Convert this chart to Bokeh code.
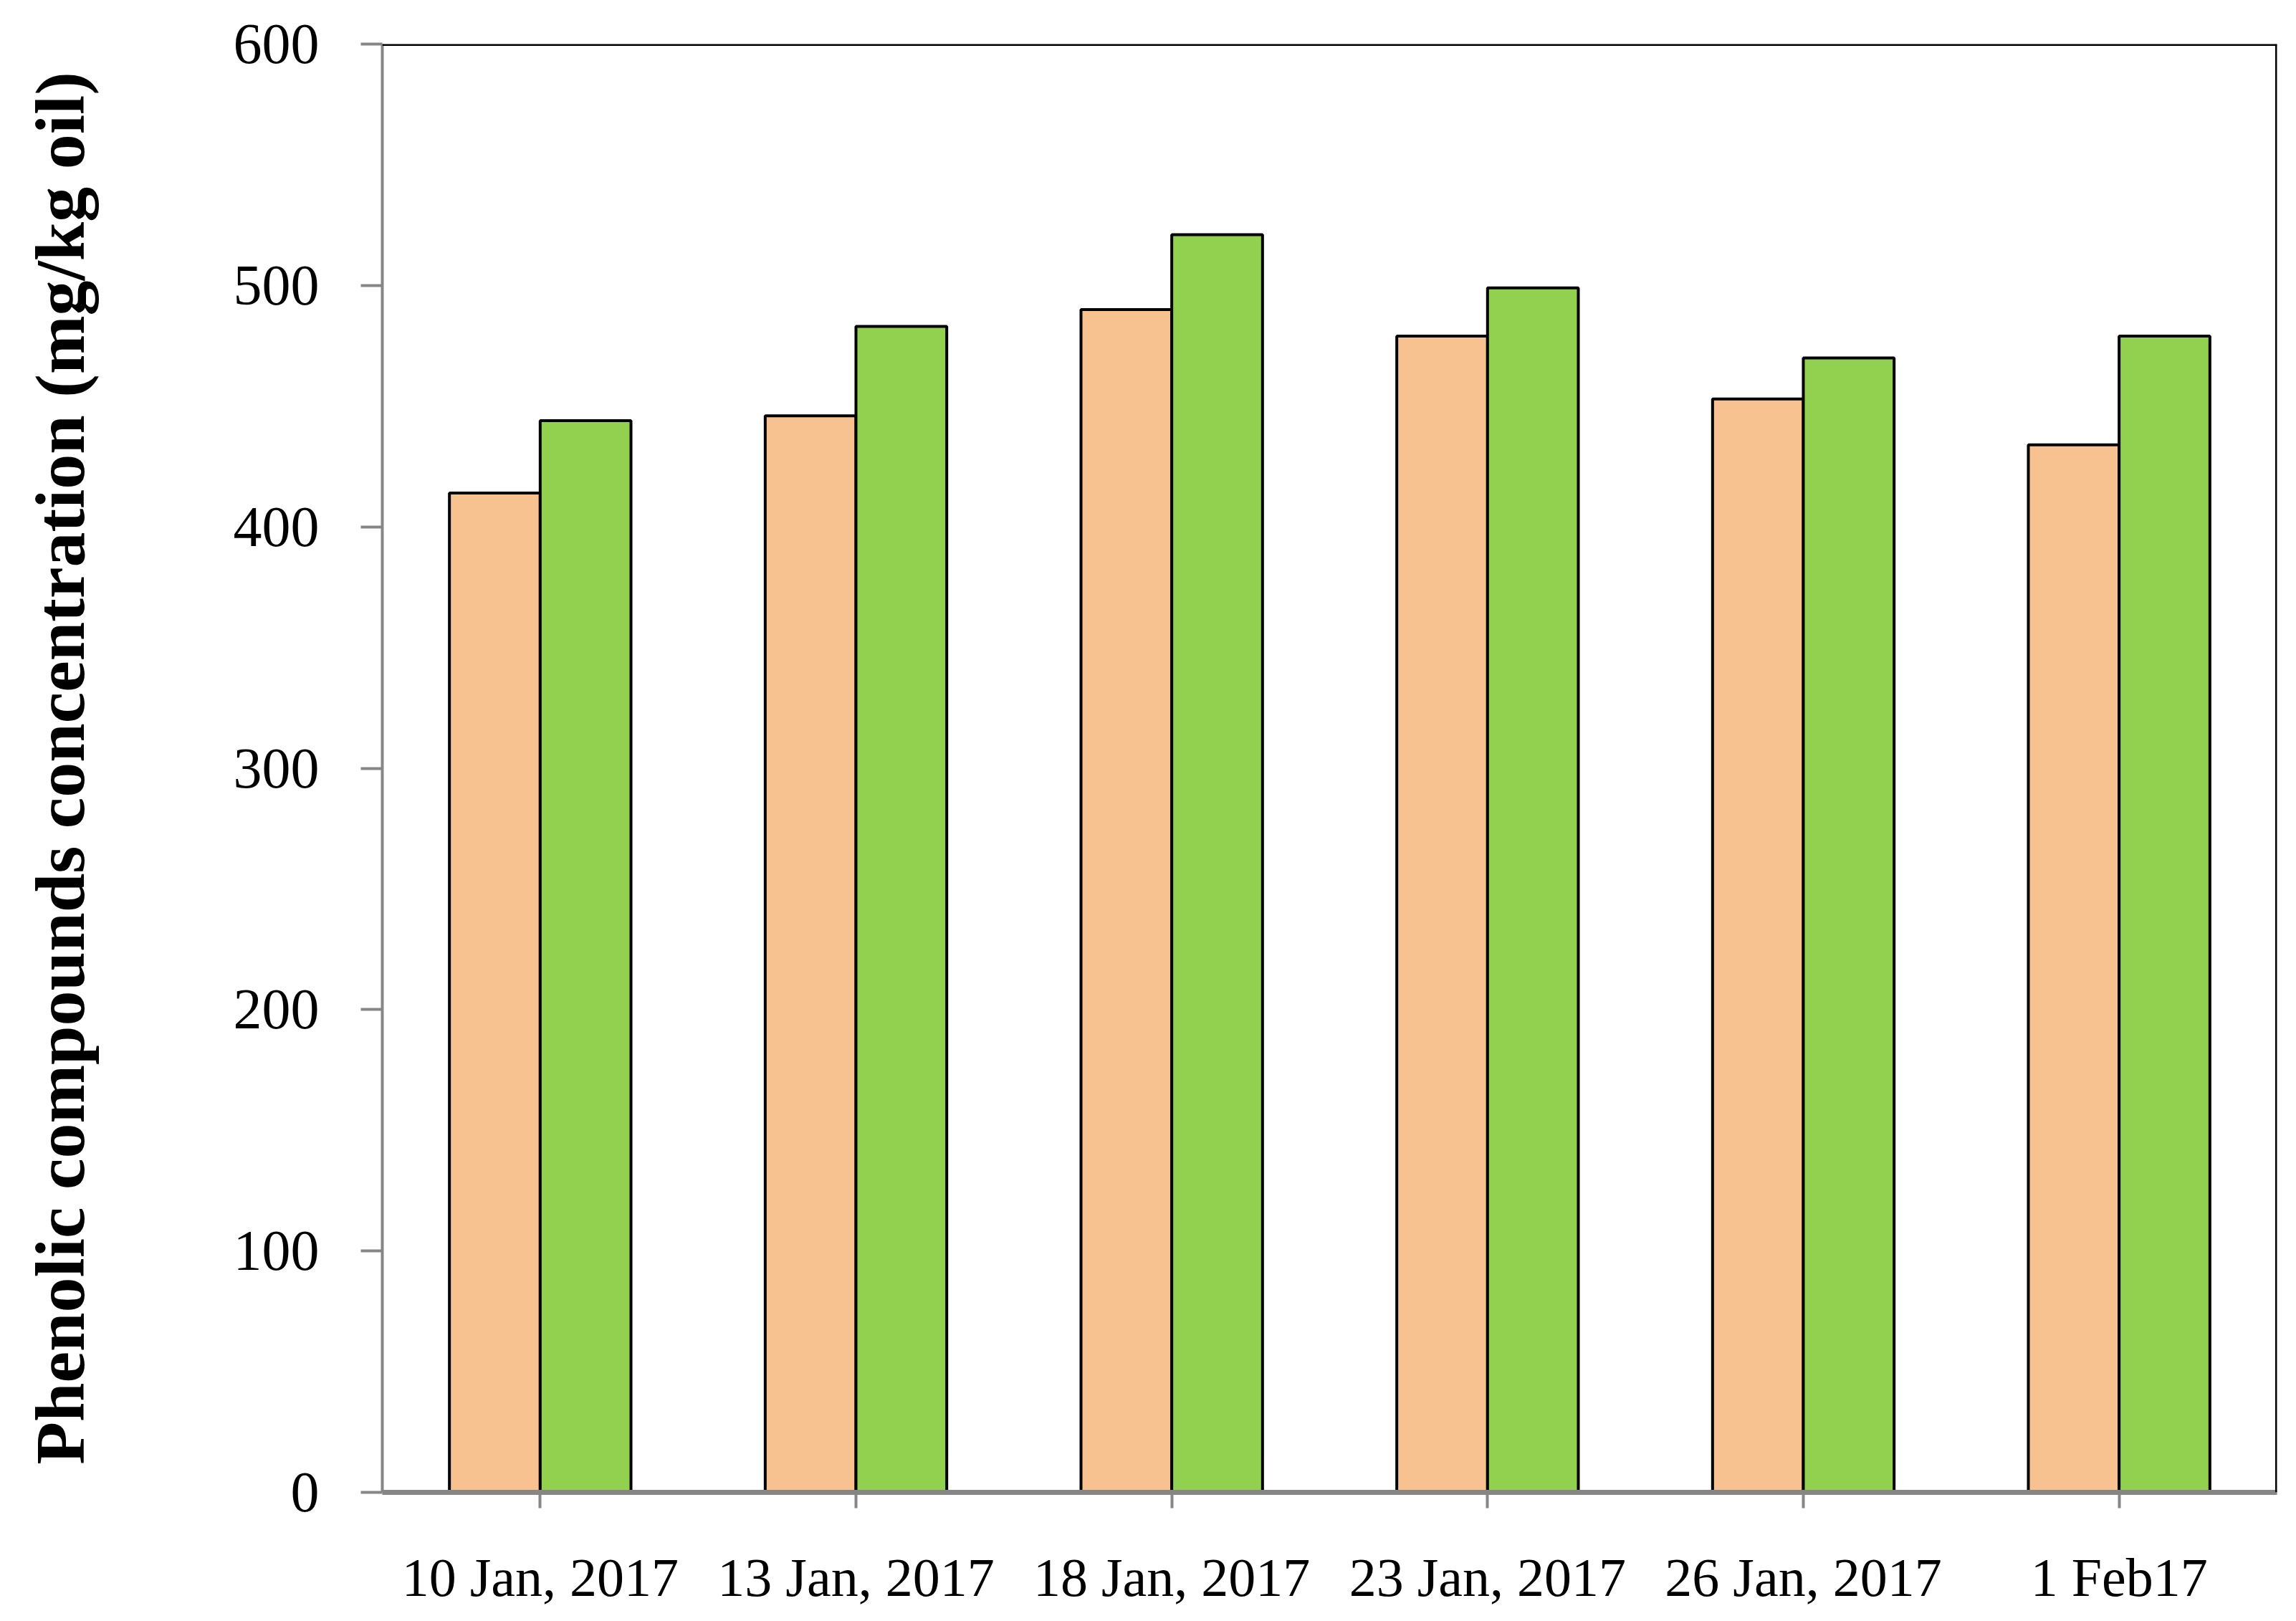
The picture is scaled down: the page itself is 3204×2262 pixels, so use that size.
from bokeh.plotting import figure
from bokeh.models import FactorRange, Range1d, Span, FixedTicker
from bokeh.transform import dodge
from bokeh.embed import file_html
from bokeh.resources import INLINE

dates = ["10 Jan, 2017", "13 Jan, 2017", "18 Jan, 2017", "23 Jan, 2017", "26 Jan, 2017", "1 Feb17"]
series_a = [414, 446, 490, 479, 453, 434]
series_b = [444, 483, 521, 499, 470, 479]
y_ticks = [0, 100, 200, 300, 400, 500, 600]

FONT = "Liberation Serif"

p = figure(
    x_range=FactorRange(*dates, range_padding=0),
    y_range=Range1d(0, 600),
    width=3188, height=2246,
    output_backend="svg", toolbar_location=None,
    min_border_left=533, min_border_top=61, min_border_right=11, min_border_bottom=164,
)
p.outline_line_color = None
p.xgrid.visible = False
p.ygrid.visible = False
p.background_fill_color = "white"
p.border_fill_color = "white"

src = dict(date=dates, a=series_a, b=series_b)
p.vbar(x=dodge("date", -0.1437, range=p.x_range), top="a", width=0.2875, source=src,
       fill_color="#F8C190", line_color="black", line_width=4)
p.vbar(x=dodge("date", 0.1437, range=p.x_range), top="b", width=0.2875, source=src,
       fill_color="#92D050", line_color="black", line_width=4)

p.add_layout(Span(location=600, dimension="width", line_color="black", line_width=5))
p.add_layout(Span(location=len(dates), dimension="height", line_color="black", line_width=5))

# y axis
p.yaxis.ticker = FixedTicker(ticks=y_ticks)
p.yaxis.axis_line_color = "#868686"
p.yaxis.axis_line_width = 4
p.yaxis.major_tick_line_color = "#868686"
p.yaxis.major_tick_line_width = 4
p.yaxis.major_tick_out = 30
p.yaxis.major_tick_in = 0
p.yaxis.minor_tick_line_color = None
p.yaxis.major_label_text_font = FONT
p.yaxis.major_label_text_font_size = "80px"
p.yaxis.major_label_text_color = "black"
p.yaxis.major_label_standoff = 58
p.yaxis.axis_label = "Phenolic compounds concentration (mg/kg oil)"
p.yaxis.axis_label_text_font = FONT
p.yaxis.axis_label_text_font_style = "bold"
p.yaxis.axis_label_text_font_size = "98px"
p.yaxis.axis_label_text_color = "black"
p.yaxis.axis_label_standoff = 185

# x axis
p.xaxis.axis_line_color = "#868686"
p.xaxis.axis_line_width = 7
p.xaxis.major_tick_line_color = "#868686"
p.xaxis.major_tick_line_width = 4
p.xaxis.major_tick_out = 22
p.xaxis.major_tick_in = 0
p.xaxis.minor_tick_line_color = None
p.xaxis.major_label_text_font = FONT
p.xaxis.major_label_text_font_size = "76px"
p.xaxis.major_label_text_color = "black"
p.xaxis.major_label_standoff = 54

open("out.html", "w").write(file_html(p, INLINE))
